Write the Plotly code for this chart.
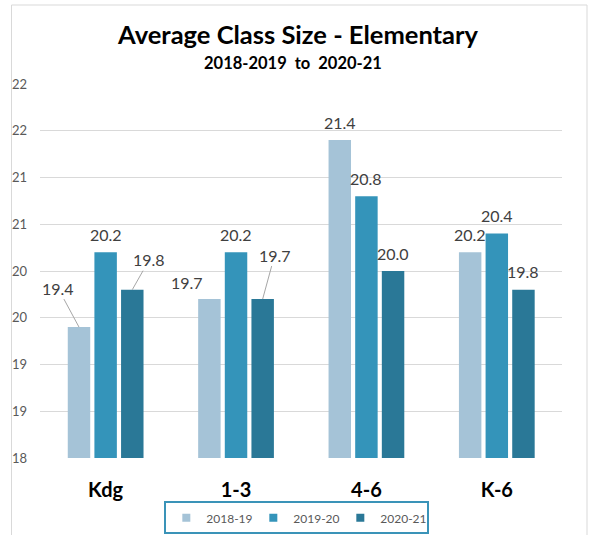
import plotly.graph_objects as go

categories = ["Kdg", "1-3", "4-6", "K-6"]
series_names = ["2018-19", "2019-20", "2020-21"]
values_2018_19 = [19.4, 19.7, 21.4, 20.2]
values_2019_20 = [20.2, 20.2, 20.8, 20.4]
values_2020_21 = [19.8, 19.7, 20.0, 19.8]
series_values = [values_2018_19, values_2019_20, values_2020_21]

colors = ["#a5c3d7", "#3494ba", "#2a7897"]
FONT = "Lato"

BARGAP = 0.387
fig = go.Figure()
for name, vals, col in zip(series_names, series_values, colors):
    fig.add_trace(go.Bar(
        x=categories, y=vals, name=name, showlegend=False,
        marker=dict(color=col, line=dict(width=0)),
        hoverinfo="skip",
    ))
# legend entries with small square swatches
for name, col in zip(series_names, colors):
    fig.add_trace(go.Scatter(
        x=[None], y=[None], mode="markers", name=name,
        marker=dict(symbol="square", size=8, color=col),
        hoverinfo="skip",
    ))

# data label placement (pixel offsets from bar top centre); leader lines where Excel drew them
label_style = {
    (0, 0): dict(arrow=True, ax=-21, ay=-39),
    (0, 2): dict(arrow=True, ax=17, ay=-30),
    (1, 0): dict(arrow=False, dx=-22, dy=17),
    (1, 2): dict(arrow=True, ax=12, ay=-44),
}
slot = (1 - BARGAP) / 3
annotations = []
for j, vals in enumerate(series_values):
    for i, v in enumerate(vals):
        xpos = i + (j - 1) * slot
        st = label_style.get((i, j), dict(arrow=False, dx=0, dy=18))
        base = dict(x=xpos, y=v, xref="x", yref="y", text=f"{v:.1f}",
                    font=dict(family=FONT, size=16, color="#404040"))
        if st["arrow"]:
            base.update(showarrow=True, arrowhead=0, arrowwidth=1,
                        arrowcolor="#a6a6a6", ax=st["ax"], ay=st["ay"],
                        standoff=0, startstandoff=0)
        else:
            base.update(showarrow=False, xshift=st["dx"], yshift=st["dy"],
                        yanchor="middle", xanchor="center")
        annotations.append(base)

annotations.append(dict(
    text="<b>2018-2019  to  2020-21</b>", x=0.4847, y=1.056, xref="paper", yref="paper",
    showarrow=False, xanchor="center", yanchor="middle",
    font=dict(family=FONT, size=16.5, color="#000000"),
))

fig.update_layout(
    width=589, height=535,
    margin=dict(l=40, r=27, t=84, b=77, autoexpand=False),
    paper_bgcolor="white", plot_bgcolor="white",
    barmode="group", bargap=BARGAP, bargroupgap=0.157,
    title=dict(text="<b>Average Class Size - Elementary</b>", x=298 / 589, xanchor="center",
               y=1 - 35 / 535, yref="container", yanchor="middle",
               font=dict(family=FONT, size=25.5, color="#000000")),
    xaxis=dict(showgrid=False, showline=False, zeroline=False, ticks="",
               tickfont=dict(family=FONT, size=20, color="#000000", weight="bold"),
               ticklabelstandoff=18),
    yaxis=dict(range=[18, 22], dtick=0.5, tick0=18, tickformat=".0f",
               showgrid=True, gridcolor="#d9d9d9", gridwidth=1, zeroline=False,
               showline=False, ticks="",
               tickfont=dict(family=FONT, size=13, color="#595959"),
               ticklabelstandoff=12),
    showlegend=True,
    legend=dict(orientation="h", x=0.492, xanchor="center", y=-0.16, yanchor="middle",
                bordercolor="#3a93b8", borderwidth=2,
                font=dict(family=FONT, size=12, color="#595959"),
                itemwidth=30, traceorder="normal", entrywidth=42, entrywidthmode="pixels"),
    annotations=annotations,
    shapes=[dict(type="rect", xref="paper", yref="paper",
                 x0=(11.5 - 40) / 522, x1=(587 - 40) / 522,
                 y0=(458 - 545) / 374, y1=(458 - 5) / 374,
                 line=dict(color="#d9d9d9", width=1), fillcolor="rgba(0,0,0,0)",
                 layer="below")],
)

fig.write_html("out.html", config={"displayModeBar": False},
               post_script="document.body.style.margin='0';document.body.style.overflow='hidden';")
